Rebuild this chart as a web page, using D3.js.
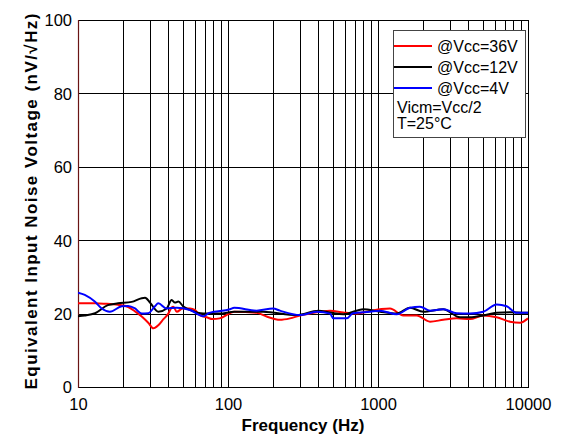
<!DOCTYPE html>
<html>
<head>
<meta charset="utf-8">
<script src="https://cdn.jsdelivr.net/npm/d3@7/dist/d3.min.js"></script>
<style>
  html, body { margin: 0; padding: 0; background: #fff; }
  svg { display: block; font-family: "Liberation Sans", Arial, sans-serif; }
</style>
</head>
<body>
<svg id="chart" width="565" height="439"></svg>
<script>
// ---- data ----
const seriesNames = ["@Vcc=36V", "@Vcc=12V", "@Vcc=4V"];
const seriesColors = ["#ff0000", "#000000", "#0000ff"];

const freq36 = [10, 13, 15, 18.5, 21.6, 24, 26.6, 29.4, 31.8, 34.3, 37, 40, 42, 43.2, 45.5, 50, 55.8, 60, 65, 72, 79, 88, 103, 110, 155, 181, 222, 259, 302, 352, 479, 587, 700, 1031, 1202, 1475, 1811, 2222, 2723, 3348, 4105, 5035, 6180, 7586, 8846, 10000];
const vn36   = [22.8, 22.8, 22.7, 22.4, 21.8, 20.6, 19.2, 17.5, 16.0, 16.8, 18.4, 20.0, 21.6, 21.9, 20.5, 21.4, 21.4, 21.0, 19.6, 19.0, 18.5, 18.7, 20.1, 20.5, 20.2, 19.2, 18.3, 18.7, 19.5, 20.0, 20.8, 20.3, 20.0, 21.2, 21.4, 19.5, 19.5, 17.8, 18.3, 18.7, 18.5, 19.5, 19.0, 17.8, 17.5, 18.7];

const freq12 = [10, 11.1, 13, 15.8, 18.5, 22.8, 26.6, 28, 30.2, 34.3, 39, 42.1, 44.3, 46.7, 50.4, 55.8, 68.4, 88, 110, 171, 287, 400, 479, 587, 798, 1031, 1333, 1634, 2004, 2723, 3522, 4105, 5035, 6180, 7586, 10000];
const vn12   = [19.3, 19.5, 20.1, 22.3, 22.8, 23.2, 24.2, 24.3, 23.0, 20.5, 21.4, 23.7, 23.0, 23.3, 21.9, 21.0, 20.0, 20.0, 20.5, 20.5, 19.6, 20.8, 20.3, 19.8, 21.2, 20.5, 20.0, 21.6, 20.5, 21.2, 19.0, 19.0, 19.5, 20.2, 20.4, 20.2];

const freq4 = [10, 11.1, 13, 14.4, 16.3, 19.6, 21.6, 24, 26.6, 29.4, 32.6, 34.3, 39, 45.5, 55.8, 68.4, 75, 103, 110, 155, 200, 222, 302, 390, 479, 504, 618, 681, 885, 1031, 1333, 1634, 1905, 2222, 2723, 3348, 4105, 5035, 6180, 7211, 8410, 10000];
const vn4   = [25.7, 25.1, 23.2, 21.4, 20.5, 22.0, 22.1, 21.4, 20.0, 20.1, 22.0, 22.8, 21.4, 21.6, 21.0, 19.3, 20.2, 21.2, 21.6, 20.8, 21.4, 20.8, 19.6, 20.5, 20.0, 18.7, 18.7, 20.1, 20.5, 20.8, 19.8, 21.6, 21.9, 20.8, 21.2, 20.1, 20.0, 20.5, 22.5, 22.0, 20.2, 20.2];

const xTickValues = [10, 100, 1000, 10000];
const xTickLabels = ["10", "100", "1000", "10000"];
const yTickValues = [0, 20, 40, 60, 80, 100];
const yTickLabels = ["0", "20", "40", "60", "80", "100"];
const noteLines = ["Vicm=Vcc/2", "T=25°C"];
const xTitle = "Frequency (Hz)";
const yTitle = "Equivalent Input Noise Voltage (nV/\u221AHz)";

// ---- layout ----
const L = 78, R = 528, T = 20, B = 387;
const svg = d3.select("#chart");
const x = d3.scaleLog().domain([10, 10000]).range([L, R]);
const y = d3.scaleLinear().domain([0, 100]).range([B, T]);

// vertical grid (every minor log tick)
const minor = [];
for (let d = 10; d < 10000; d *= 10) for (let k = 2; k <= 9; k++) minor.push(d * k);
minor.push(100, 1000);
svg.append("g").selectAll("line").data(minor).join("line")
  .attr("x1", d => Math.round(x(d)) + 0.5).attr("x2", d => Math.round(x(d)) + 0.5)
  .attr("y1", T).attr("y2", B)
  .attr("stroke", "#000").attr("stroke-width", 1);

// horizontal grid
svg.append("g").selectAll("line").data([20, 40, 60, 80]).join("line")
  .attr("x1", L).attr("x2", R)
  .attr("y1", d => Math.round(y(d)) + 0.5).attr("y2", d => Math.round(y(d)) + 0.5)
  .attr("stroke", "#000").attr("stroke-width", 1);

// frame
svg.append("rect").attr("x", L + 0.5).attr("y", T + 0.5)
  .attr("width", R - L).attr("height", B - T)
  .attr("fill", "none").attr("stroke", "#000").attr("stroke-width", 1);
svg.append("line").attr("x1", L + 0.5).attr("x2", L + 0.5).attr("y1", T).attr("y2", B + 1)
  .attr("stroke", "#6a1414").attr("stroke-width", 1.2);

// axes (labels only)
const xAxis = d3.axisBottom(x).tickValues(xTickValues)
  .tickFormat((d, i) => xTickLabels[i]).tickSize(0).tickPadding(0);
const gx = svg.append("g").attr("transform", `translate(0,${B})`).call(xAxis);
gx.select(".domain").remove();
gx.selectAll("text").attr("dy", null).attr("y", 23)
  .style("font-size", "16.5px").style("font-family", "Liberation Sans, Arial, sans-serif").attr("fill", "#000");

const yAxis = d3.axisLeft(y).tickValues(yTickValues)
  .tickFormat((d, i) => yTickLabels[i]).tickSize(0).tickPadding(0);
const gy = svg.append("g").attr("transform", `translate(${L - 6},0)`).call(yAxis);
gy.select(".domain").remove();
gy.selectAll("text").attr("dy", "0.36em").attr("x", 0)
  .style("font-size", "16.5px").style("font-family", "Liberation Sans, Arial, sans-serif").attr("fill", "#000");

// data lines
const freqs = [freq36, freq12, freq4];
const vals = [vn36, vn12, vn4];
const line = d3.line().x(d => x(d[0])).y(d => y(d[1])).curve(d3.curveMonotoneX);
const clip = svg.append("clipPath").attr("id", "clip").append("rect")
  .attr("x", L).attr("y", T).attr("width", R - L + 2).attr("height", B - T);
const g = svg.append("g").attr("clip-path", "url(#clip)");
[0, 1, 2].forEach(i => {
  g.append("path").datum(d3.zip(freqs[i], vals[i]))
    .attr("d", line).attr("fill", "none")
    .attr("stroke", seriesColors[i]).attr("stroke-width", 2).attr("stroke-linejoin", "round");
});

// legend
const lg = svg.append("g");
lg.append("rect").attr("x", 393.5).attr("y", 30.5).attr("width", 132).attr("height", 107)
  .attr("fill", "#fff").attr("stroke", "#444").attr("stroke-width", 1);
seriesNames.forEach((name, i) => {
  const yy = 46 + i * 21;
  lg.append("line").attr("x1", 394).attr("x2", 432).attr("y1", yy).attr("y2", yy)
    .attr("stroke", seriesColors[i]).attr("stroke-width", 2);
  lg.append("text").attr("x", 437).attr("y", yy + 6).text(name)
    .style("font-size", "16px").attr("fill", "#000");
});
noteLines.forEach((t, i) => {
  lg.append("text").attr("x", 397).attr("y", 113 + i * 16).text(t)
    .style("font-size", "16px").attr("fill", "#000");
});

// titles
svg.append("text").attr("x", 303).attr("y", 431).attr("text-anchor", "middle")
  .style("font-size", "17px").style("font-weight", "bold").text(xTitle);
svg.append("text").attr("transform", "translate(37,201.5) rotate(-90)").attr("text-anchor", "middle")
  .attr("textLength", 376).attr("lengthAdjust", "spacing")
  .style("font-size", "17px").style("font-weight", "bold").text(yTitle);
</script>
</body>
</html>
